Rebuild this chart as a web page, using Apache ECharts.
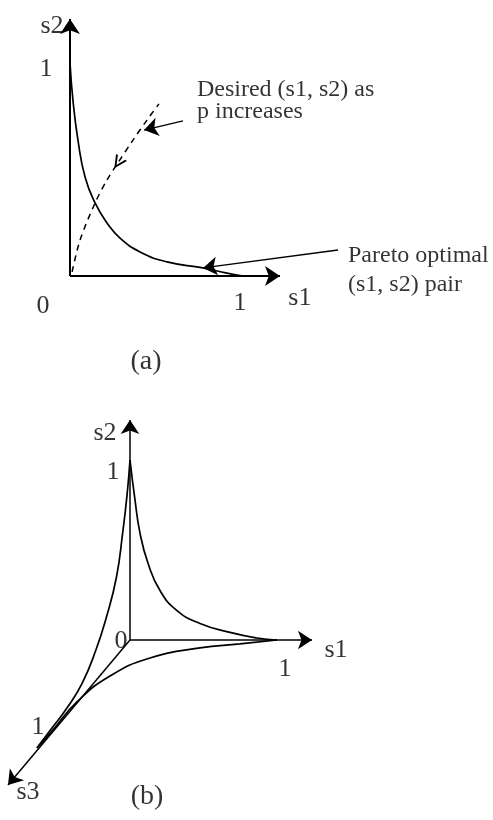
<!DOCTYPE html>
<html>
<head>
<meta charset="utf-8">
<script src="https://cdn.jsdelivr.net/npm/echarts@6/dist/echarts.min.js"></script>
<style>
  html, body { margin: 0; padding: 0; background: #fff; }
  #chart { width: 493px; height: 820px; }
</style>
</head>
<body>
<div id="chart"></div>
<script>
// ---- panel (a): 2 objectives ----
const paretoS1 = [0, 0.017, 0.046, 0.087, 0.145, 0.214, 0.289, 0.405, 0.561, 0.769, 0.9, 1];
const paretoS2 = [1, 0.826, 0.638, 0.465, 0.343, 0.249, 0.178, 0.113, 0.066, 0.038, 0.015, 0];
const desiredS1 = [0.012, 0.058, 0.145, 0.214, 0.277, 0.364, 0.445, 0.514];
const desiredS2 = [0.019, 0.169, 0.343, 0.451, 0.531, 0.638, 0.732, 0.808];
const axisEndA = [1.214, 1.207]; // s1, s2 arrow tips
const labelsA = [
  ['s2', -0.104, 1.175], ['1', -0.139, 0.972], ['0', -0.156, -0.141],
  ['1', 0.983, -0.127], ['s1', 1.329, -0.103], ['(a)', 0.439, -0.404]
];
const noteDesired = ['Desired (s1, s2) as', 'p increases'];
const noteDesiredAt = [0.734, 0.822];
const noteDesiredArrow = [[0.653, 0.728], [0.428, 0.685]];
const notePareto = ['Pareto optimal', '(s1, s2) pair'];
const noteParetoAt = [1.607, 0.028];
const noteParetoArrow = [[1.549, 0.122], [0.769, 0.038]];

// ---- panel (b): 3 objectives, oblique projection (projected coords) ----
const curve12X = [0, 0.034, 0.068, 0.122, 0.204, 0.320, 0.476, 0.680, 0.864, 1];
const curve12Y = [1, 0.778, 0.594, 0.428, 0.275, 0.163, 0.092, 0.042, 0.011, 0];
const curve32X = [-0.633, -0.531, -0.429, -0.325, -0.232, -0.160, -0.092, -0.050, -0.020, 0];
const curve32Y = [-0.6, -0.489, -0.378, -0.239, -0.056, 0.128, 0.35, 0.594, 0.806, 1];
const curve31X = [-0.633, -0.531, -0.361, -0.136, 0.136, 0.476, 0.748, 1];
const curve31Y = [-0.6, -0.506, -0.344, -0.2, -0.1, -0.044, -0.022, 0];
const axisEndB = { s1: [1.238, 0], s2: [0, 1.222], s3: [-0.83, -0.806] };
const labelsB = [
  ['s2', -0.170, 1.15], ['1', -0.116, 0.933], ['0', -0.061, -0.006],
  ['s1', 1.401, -0.056], ['1', 1.054, -0.161], ['1', -0.626, -0.483],
  ['s3', -0.694, -0.844], ['(b)', 0.116, -0.872]
];

// layout: pixel origin + pixels per unit for each panel
const A = { origin: [70, 276], unit: [173, 213], x: [-0.3, 2.4], y: [-0.5, 1.29] };
const B = { origin: [130, 640], unit: [147, 180], x: [-0.8, 1.6], y: [-1, 1.3] };
const gridOf = (p) => ({
  left: p.origin[0] + p.x[0] * p.unit[0],
  top: p.origin[1] - p.y[1] * p.unit[1],
  width: (p.x[1] - p.x[0]) * p.unit[0],
  height: (p.y[1] - p.y[0]) * p.unit[1]
});
const hiddenAxis = (min, max, idx) => ({
  type: 'value', min: min, max: max, gridIndex: idx, show: false,
  splitLine: { show: false }
});

const FONT = "'Liberation Serif', 'Times New Roman', serif";
const INK = '#000';
const zip = (xs, ys) => xs.map((x, i) => [x, ys[i]]);

const curve = (name, xs, ys, idx, extra) => Object.assign({
  name: name, type: 'line', xAxisIndex: idx, yAxisIndex: idx,
  data: zip(xs, ys), showSymbol: false, smooth: 0.5,
  clip: false, silent: true,
  lineStyle: { color: INK, width: 1.7 }
}, extra || {});

const arrows = (segs, idx, size, width) => ({
  type: 'lines', coordinateSystem: 'cartesian2d', xAxisIndex: idx, yAxisIndex: idx,
  symbol: ['none', 'arrow'], symbolSize: size, silent: true, clip: false,
  lineStyle: { color: INK, width: width, opacity: 1, curveness: 0 },
  data: segs.map((s) => ({ coords: s }))
});

const texts = (items, idx, fontSize) => ({
  type: 'scatter', xAxisIndex: idx, yAxisIndex: idx, symbolSize: 0, silent: true, clip: false,
  data: items.map((t) => ({ value: [t[1], t[2]], name: t[0] })),
  label: {
    show: true, position: 'inside', formatter: '{b}', color: INK,
    fontFamily: FONT, fontSize: fontSize
  }
});

const note = (lines, at, idx, lh) => ({
  type: 'scatter', xAxisIndex: idx, yAxisIndex: idx, symbolSize: 0, silent: true, clip: false,
  data: [{ value: at, name: lines.join('\n') }],
  label: {
    show: true, position: 'right', distance: 0, formatter: '{b}', color: INK,
    fontFamily: FONT, fontSize: 24, lineHeight: lh, align: 'left'
  }
});

// open "V" head, tip at the top of the symbol box
const chevron = 'path://M5,0 L10,12 L8.3,12 L5,3.6 L1.7,12 L0,12 Z';

const option = {
  animation: false,
  backgroundColor: '#fff',
  grid: [gridOf(A), gridOf(B)],
  xAxis: [hiddenAxis(A.x[0], A.x[1], 0), hiddenAxis(B.x[0], B.x[1], 1)],
  yAxis: [hiddenAxis(A.y[0], A.y[1], 0), hiddenAxis(B.y[0], B.y[1], 1)],
  series: [
    // (a) axes
    arrows([[[0, 0], [axisEndA[0], 0]], [[0, 0], [0, axisEndA[1]]]], 0, [8, 15], 2),
    curve('Pareto', paretoS1, paretoS2, 0),
    curve('Desired', desiredS1, desiredS2, 0, {
      smooth: 0.3, lineStyle: { color: INK, width: 1.5, type: [6, 5] }
    }),
    // open arrowhead on the dashed path
    {
      type: 'lines', coordinateSystem: 'cartesian2d', xAxisIndex: 0, yAxisIndex: 0,
      symbol: ['none', chevron], symbolSize: [11, 13], silent: true, clip: false,
      lineStyle: { color: INK, width: 0, opacity: 1 },
      data: [{ coords: [[desiredS1[5], desiredS2[5]], [desiredS1[4], desiredS2[4]]] }]
    },
    arrows([noteDesiredArrow, noteParetoArrow], 0, [8, 14], 1.4),
    texts(labelsA.slice(0, 5), 0, 26),
    texts(labelsA.slice(5), 0, 28),
    note(noteDesired, noteDesiredAt, 0, 22),
    note(notePareto, noteParetoAt, 0, 29),

    // (b) axes
    arrows([
      [[0, 0], axisEndB.s1], [[0, 0], axisEndB.s2], [[0, 0], axisEndB.s3]
    ], 1, [8, 14], 1.5),
    curve('s1-s2', curve12X, curve12Y, 1),
    curve('s3-s2', curve32X, curve32Y, 1),
    curve('s3-s1', curve31X, curve31Y, 1),
    texts(labelsB.slice(0, 7), 1, 26),
    texts(labelsB.slice(7), 1, 28)
  ]
};

const chart = echarts.init(document.getElementById('chart'));
chart.setOption(option);
</script>
</body>
</html>
